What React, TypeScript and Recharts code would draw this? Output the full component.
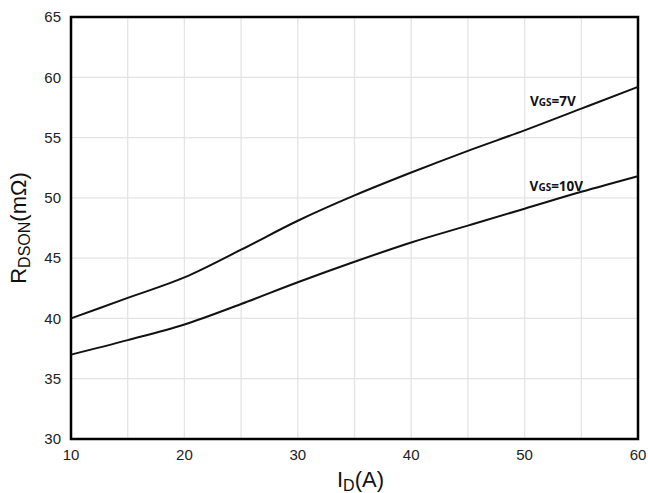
import { CartesianGrid, Label, Line, LineChart, ReferenceArea, ReferenceDot, XAxis, YAxis } from "recharts";

const currentA = [10, 15, 20, 25, 30, 35, 40, 45, 50, 55, 60];
const rdsVgs7 = [40.0, 41.7, 43.4, 45.7, 48.1, 50.2, 52.1, 53.9, 55.6, 57.4, 59.2];
const rdsVgs10 = [37.0, 38.2, 39.5, 41.2, 43.0, 44.7, 46.3, 47.7, 49.1, 50.5, 51.8];

const xTicks = [10, 15, 20, 25, 30, 35, 40, 45, 50, 55, 60];
const yTicks = [30, 35, 40, 45, 50, 55, 60, 65];

// curve annotations, in data units
const notes = [
  { x: 52.5, y: 58.0, main: "V", sub: "GS", rest: "=7V" },
  { x: 52.8, y: 51.0, main: "V", sub: "GS", rest: "=10V" },
];

const data = currentA.map((x, i) => ({ x, v7: rdsVgs7[i], v10: rdsVgs10[i] }));

const FONT = "'Liberation Sans', Arial, sans-serif";

function NoteLabel({ viewBox, note }: any) {
  const { x, y } = viewBox;
  return (
    <text x={x} y={y} dy={5} textAnchor="middle" fontFamily="'Noto Sans', sans-serif" fontWeight="bold" fontSize={13.5} fill="#111">
      {note.main}
      <tspan fontSize={10}>{note.sub}</tspan>
      {note.rest}
    </text>
  );
}

function YTitle({ viewBox }: any) {
  const cx = 19;
  const cy = viewBox.y + viewBox.height / 2;
  return (
    <text x={cx} y={cy} transform={`rotate(-90 ${cx} ${cy})`} textAnchor="middle" dy={7} fontFamily={FONT} fontSize={22} fill="#111">
      R<tspan fontSize={16} dy={4}>DSON</tspan>
      <tspan dy={-4}>(mΩ)</tspan>
    </text>
  );
}

function XTitle({ viewBox }: any) {
  const cx = viewBox.x + viewBox.width / 2 + 6;
  return (
    <text x={cx} y={487} textAnchor="middle" fontFamily={FONT} fontSize={22} fill="#111">
      I<tspan fontSize={16} dy={4}>D</tspan>
      <tspan dy={-4}>(A)</tspan>
    </text>
  );
}

export default function App() {
  return (
    <div style={{ position: "absolute", left: 0, top: 0, width: 648, height: 493, background: "#fff" }}>
      <LineChart width={648} height={493} data={data} margin={{ top: 17, right: 10, left: 26, bottom: 24 }}>
        <CartesianGrid stroke="#e4e4e4" strokeWidth={1.3} />
        <XAxis
          dataKey="x"
          type="number"
          domain={[10, 60]}
          ticks={xTicks}
          interval={0}
          tickFormatter={(v) => (v % 10 === 0 ? String(v) : "")}
          tickLine={false}
          axisLine={false}
          height={30}
          tickMargin={4}
          tick={{ fontSize: 15, fill: "#222", fontFamily: FONT }}
        >
          <Label content={<XTitle />} />
        </XAxis>
        <YAxis
          type="number"
          domain={[30, 65]}
          ticks={yTicks}
          interval={0}
          tickLine={false}
          axisLine={false}
          width={45}
          tickMargin={4}
          tick={{ fontSize: 15, fill: "#222", fontFamily: FONT }}
        >
          <Label content={<YTitle />} />
        </YAxis>
        <Line type="monotone" dataKey="v7" stroke="#111" strokeWidth={2} dot={false} isAnimationActive={false} />
        <Line type="monotone" dataKey="v10" stroke="#111" strokeWidth={2} dot={false} isAnimationActive={false} />
        <ReferenceArea x1={10} x2={60} y1={30} y2={65} fill="none" stroke="#000" strokeWidth={2.5} />
        {notes.map((n) => (
          <ReferenceDot key={n.rest} x={n.x} y={n.y} r={0} stroke="none" label={<NoteLabel note={n} />} />
        ))}
      </LineChart>
    </div>
  );
}
